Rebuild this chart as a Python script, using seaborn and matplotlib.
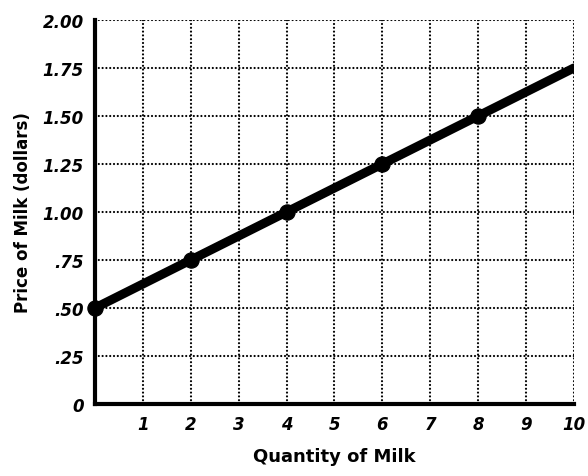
import matplotlib
matplotlib.use("Agg")
import matplotlib.pyplot as plt
import seaborn as sns
import pandas as pd

quantity = [0, 2, 4, 6, 8, 10]
price = [0.50, 0.75, 1.00, 1.25, 1.50, 1.75]
marker_quantity = [0, 2, 4, 6, 8]
marker_price = [0.50, 0.75, 1.00, 1.25, 1.50]
x_ticks = [1, 2, 3, 4, 5, 6, 7, 8, 9, 10]
y_ticks = [0, 0.25, 0.5, 0.75, 1.0, 1.25, 1.5, 1.75, 2.0]
y_tick_labels = ["0", ".25", ".50", ".75", "1.00", "1.25", "1.50", "1.75", "2.00"]

sns.set_style("white")
plt.rcParams['font.family'] = ['DejaVu Sans']
plt.rcParams['text.color'] = 'black'
plt.rcParams['axes.labelcolor'] = 'black'
plt.rcParams['xtick.color'] = 'black'
plt.rcParams['ytick.color'] = 'black'

fig = plt.figure(figsize=(5.88, 4.77), dpi=100)
ax = fig.add_axes([0.1616, 0.151, 0.8144, 0.805])

line_df = pd.DataFrame({"q": quantity, "p": price})
pts_df = pd.DataFrame({"q": marker_quantity, "p": marker_price})

sns.lineplot(data=line_df, x="q", y="p", ax=ax, color="black", linewidth=6.5, zorder=4,
             solid_capstyle="round")
sns.scatterplot(data=pts_df, x="q", y="p", ax=ax, color="black", s=120, edgecolor="black",
                zorder=5, clip_on=False)

ax.set_xlim(0, 10)
ax.set_ylim(0, 2.0)
ax.set_xticks(range(0, 11))
ax.set_xticklabels([""] + [str(t) for t in x_ticks])
ax.set_yticks(y_ticks)
ax.set_yticklabels(y_tick_labels)

ax.grid(True, linestyle=(0, (0.01, 1.7)), color="black", linewidth=1.6,
        dash_capstyle="round")
ax.set_axisbelow(True)

for s in ["top", "right"]:
    ax.spines[s].set_visible(False)
for s in ["left", "bottom"]:
    ax.spines[s].set_linewidth(3)
    ax.spines[s].set_color("black")
    ax.spines[s].set_zorder(6)

ax.tick_params(axis="both", length=0, pad=8, colors="black")
for lbl in ax.get_xticklabels() + ax.get_yticklabels():
    lbl.set_fontweight("bold")
    lbl.set_fontstyle("italic")
    lbl.set_fontsize(12)
    lbl.set_color("black")

ax.set_xlabel("Quantity of Milk", fontsize=13, fontweight="bold", labelpad=10, color="black")
ax.set_ylabel("Price of Milk (dollars)", fontsize=12, fontweight="bold", labelpad=8, color="black")

fig.savefig("out.png", dpi=100)
